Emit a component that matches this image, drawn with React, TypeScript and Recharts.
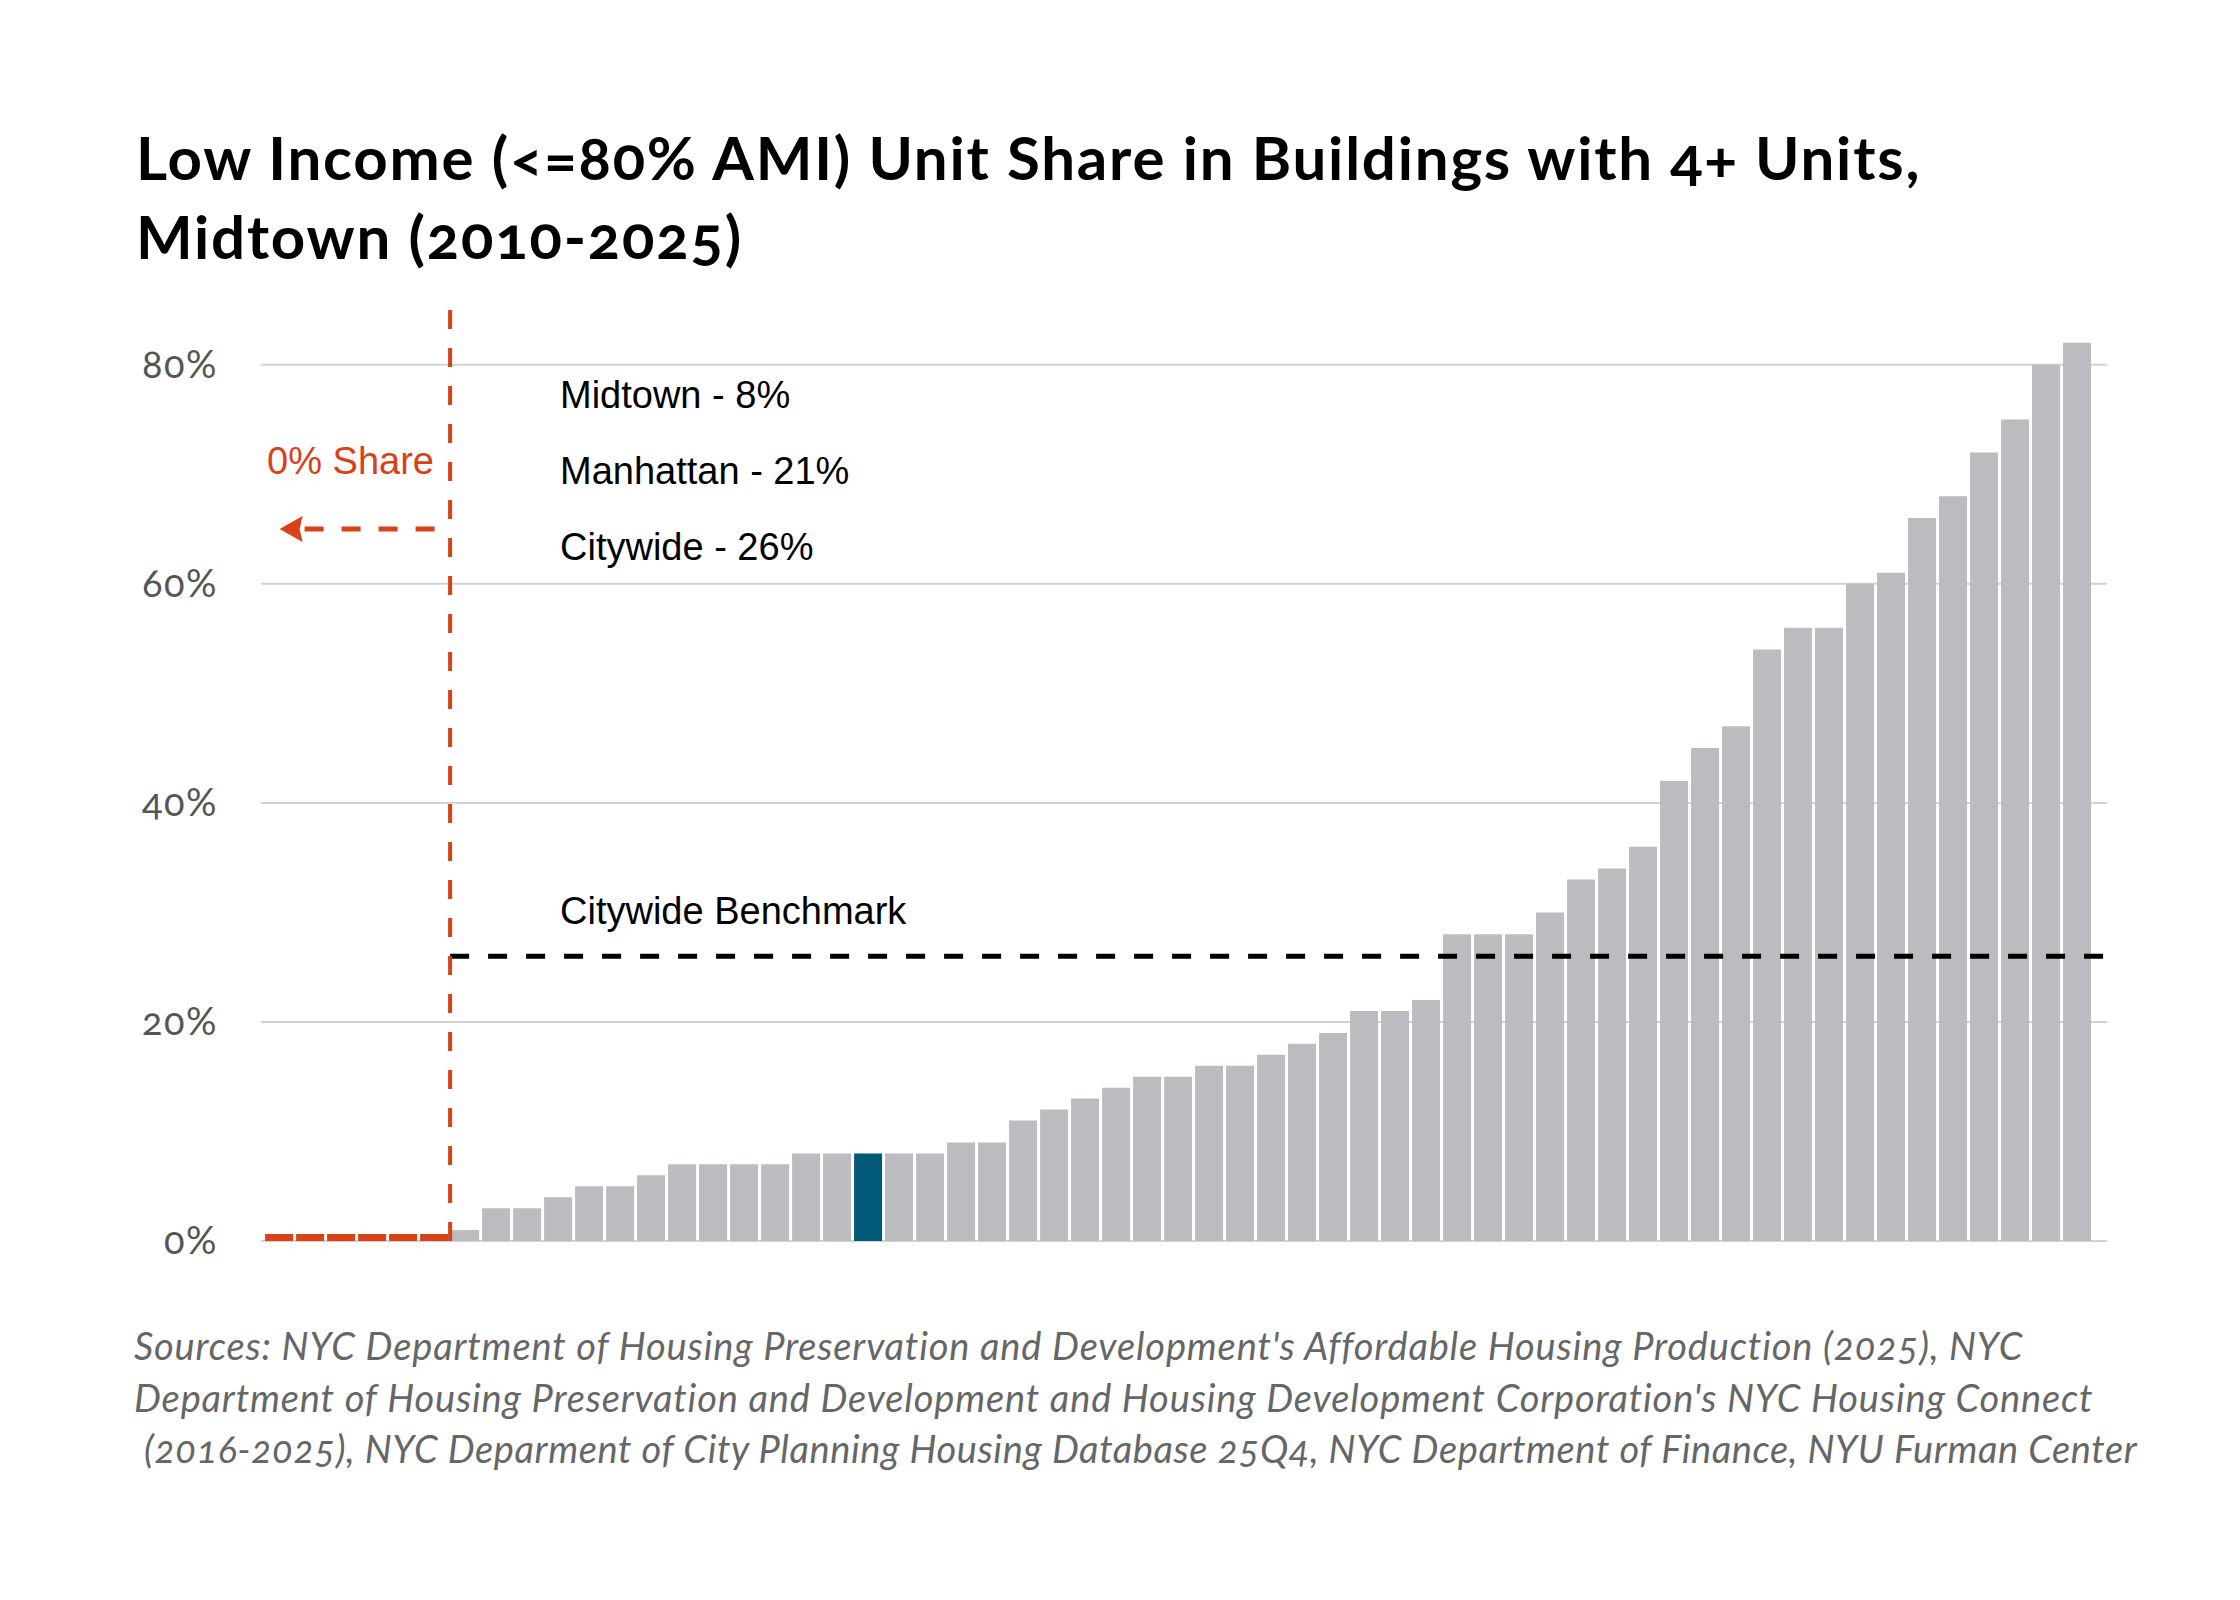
import { Bar, BarChart, CartesianGrid, Cell, ReferenceLine, XAxis, YAxis } from "recharts";

// share of low income units per building, sorted ascending (first six are 0%)
const shares = [
  0, 0, 0, 0, 0, 0, 1, 3, 3, 4, 5, 5, 6, 7, 7, 7, 7, 8, 8, 8, 8, 8, 9, 9, 11, 12, 13, 14, 15, 15,
  16, 16, 17, 18, 19, 21, 21, 22, 28, 28, 28, 30, 33, 34, 36, 42, 45, 47, 54, 56, 56, 60, 61, 66,
  68, 72, 75, 80, 82,
];
const midtownRank = 20;
const percentTicks = [0, 20, 40, 60, 80];
const citywideBenchmark = 26;
const summaryLabels = ["Midtown - 8%", "Manhattan - 21%", "Citywide - 26%"];
const footerLines = [
  "Sources: NYC Department of Housing Preservation and Development's Affordable Housing Production (2025), NYC",
  "Department of Housing Preservation and Development and Housing Development Corporation's NYC Housing Connect",
  "(2016-2025), NYC Deparment of City Planning Housing Database 25Q4, NYC Department of Finance, NYU Furman Center",
];

const rows = shares.map((share, i) => ({ rank: i + 1, share }));
const zeroCount = shares.filter((s) => s === 0).length;

const RED = "#D94116";
const GRAY = "#BBBCC0";
const BLUE = "#005A78";
const xDomain: [number, number] = [0.4, 59.95];

const ArrowShape = (p: any) => {
  const { x1, y1, x2, y2 } = p;
  return (
    <g>
      <line x1={x1} y1={y1} x2={x2 + 16} y2={y2} stroke={RED} strokeWidth={5} strokeDasharray="19 18" />
      <path d={`M${x2},${y2} L${x2 + 23},${y2 - 13} L${x2 + 20},${y2} L${x2 + 23},${y2 + 13} Z`} fill={RED} />
    </g>
  );
};

export default function App() {
  return (
    <div
      style={{
        position: "absolute",
        left: 0,
        top: 0,
        width: 2240,
        height: 1600,
        background: "#fff",
        fontVariantNumeric: "oldstyle-nums",
      }}
    >
      <BarChart width={2240} height={1600} data={rows} margin={{ top: 310, right: 133, bottom: 359, left: 0 }}>
        <CartesianGrid vertical={false} horizontalValues={percentTicks} stroke="#d2d2d2" strokeWidth={2} />
        <XAxis type="number" dataKey="rank" domain={xDomain} allowDataOverflow hide />
        <YAxis
          domain={[0, 85]}
          ticks={percentTicks}
          width={261}
          axisLine={false}
          tickLine={false}
          tickSize={0}
          tickMargin={43}
          tickFormatter={(v) => `${v}%`}
          tick={{ fontSize: 38, fill: "#555", fontFamily: "Lato", letterSpacing: 1.5 }}
        />
        <Bar dataKey="share" barSize={28} minPointSize={7} isAnimationActive={false}>
          {rows.map((r) => (
            <Cell key={r.rank} fill={r.share === 0 ? RED : r.rank === midtownRank ? BLUE : GRAY} />
          ))}
        </Bar>
        <ReferenceLine
          segment={[
            { x: zeroCount + 0.5, y: citywideBenchmark },
            { x: xDomain[1], y: citywideBenchmark },
          ]}
          stroke="#000"
          strokeWidth={5}
          strokeDasharray="19 19"
        />
        <ReferenceLine x={zeroCount + 0.5} stroke={RED} strokeWidth={4} strokeDasharray="19 19" />
        <ReferenceLine
          segment={[
            { x: zeroCount, y: 65 },
            { x: 1, y: 65 },
          ]}
          shape={ArrowShape}
        />
      </BarChart>
      <svg
        width={2240}
        height={1600}
        style={{ position: "absolute", left: 0, top: 0, pointerEvents: "none" }}
      >
        <text x={136} y={180} fontFamily="Lato" fontWeight={700} fontSize={60} letterSpacing={1.8} fill="#000">
          Low Income (&lt;=80% AMI) Unit Share in Buildings with 4+ Units,
        </text>
        <text x={136} y={259} fontFamily="Lato" fontWeight={700} fontSize={60} letterSpacing={1.8} fill="#000">
          Midtown (2010-2025)
        </text>
        {summaryLabels.map((t, i) => (
          <text key={t} x={560} y={408 + i * 76} fontFamily="Liberation Sans, Arial" fontSize={38} fill="#000">
            {t}
          </text>
        ))}
        <text x={434} y={474} textAnchor="end" fontFamily="Liberation Sans, Arial" fontSize={38} fill={RED}>
          0% Share
        </text>
        <text x={560} y={924} fontFamily="Liberation Sans, Arial" fontSize={38} fill="#000">
          Citywide Benchmark
        </text>
        {footerLines.map((t, i) => (
          <text
            key={i}
            x={i === 2 ? 144 : 134}
            y={1360 + i * 51.5}
            fontFamily="Lato"
            fontStyle="italic"
            fontSize={38}
            letterSpacing={i === 2 ? 0.6 : 0.85}
            fill="#666"
          >
            {t}
          </text>
        ))}
      </svg>
    </div>
  );
}
